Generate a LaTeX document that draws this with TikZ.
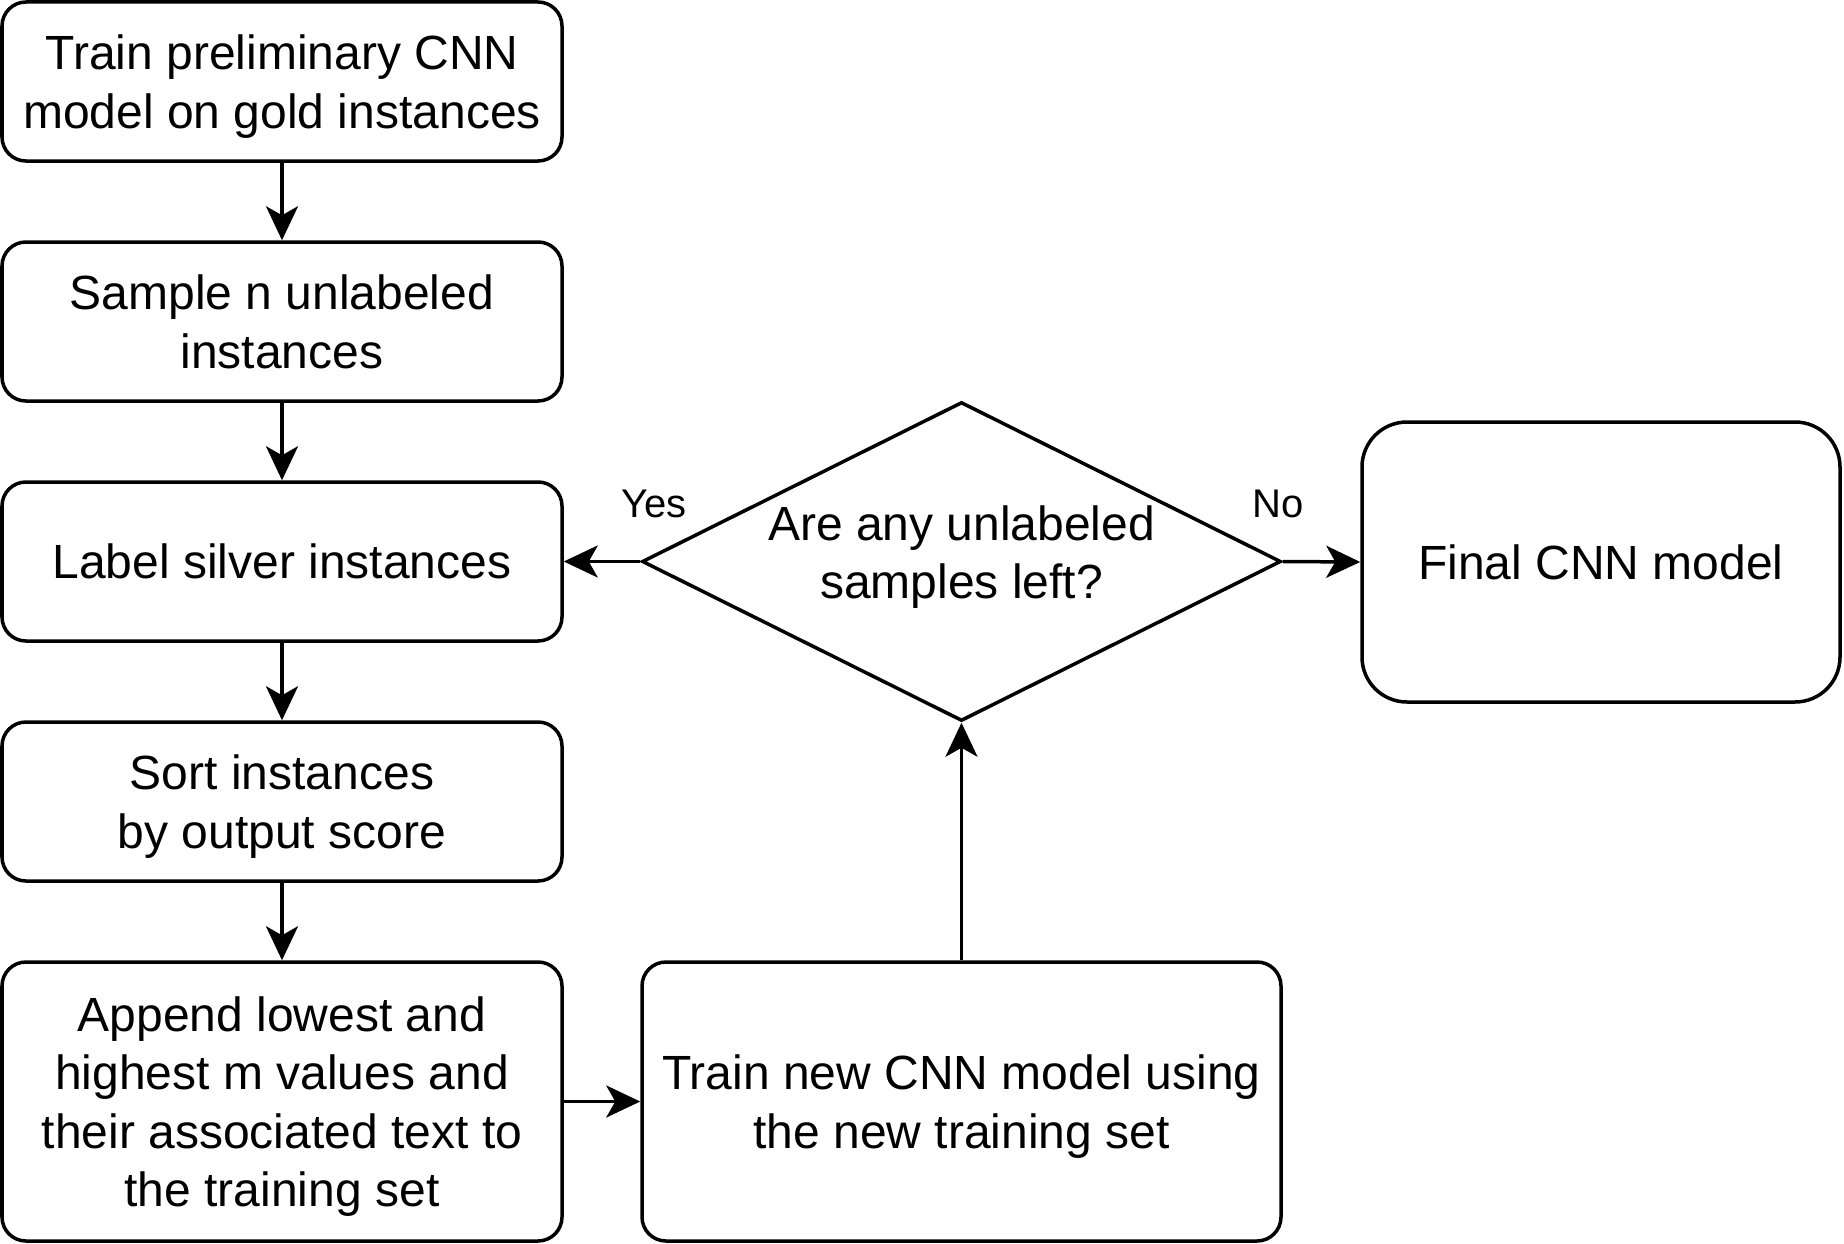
\documentclass[tikz,border=0pt]{standalone}
\usepackage{fontspec}
\setmainfont{Liberation Sans}
\usetikzlibrary{arrows.meta,shapes.geometric}
\newcommand{\mytopstrut}{\rule{0pt}{45pt}}
\newcommand{\mybotstrut}{\rule[-10pt]{0pt}{10pt}}
\tikzset{
  every node/.style={font=\fontsize{48}{58.5}\selectfont},
  box/.style={draw=black, line width=3.5pt, rounded corners=24pt, align=center, inner sep=0pt, fill=white},
  dec/.style={draw=black, line width=3.5pt, diamond, align=center, inner sep=0pt, fill=white},
  conn/.style={line width=3.5pt, -{Stealth[length=34pt,width=32pt,inset=9pt]}},
  lbl/.style={font=\fontsize{40}{48}\selectfont, inner sep=0pt}
}
\begin{document}
\begin{tikzpicture}[x=1pt,y=-1pt]
\useasboundingbox (0,0) rectangle (1844,1244);
\node[box, minimum width=560pt, minimum height=159pt] (b1) at (282,81.5) {\mytopstrut Train preliminary CNN\\model on gold instances};
\node[box, minimum width=560pt, minimum height=159pt] (b2) at (282,321.5) {\mytopstrut Sample n unlabeled\\instances\mybotstrut};
\node[box, minimum width=560pt, minimum height=159pt] (b3) at (282,561.5) {Label silver instances};
\node[box, minimum width=560pt, minimum height=159pt] (b4) at (282,801.5) {\mytopstrut Sort instances\\by output score};
\node[box, minimum width=560pt, minimum height=279pt] (b5) at (282,1101.5) {\mytopstrut Append lowest and\\highest m values and\\their associated text to\\the training set};
\node[box, minimum width=639pt, minimum height=279pt] (b6) at (961.5,1101.5) {\mytopstrut Train new CNN model using\\the new training set};
\node[dec, minimum width=639pt, minimum height=319pt] (d) at (961.5,561.5) {};
\node[align=center, inner sep=0pt] (dt) at (961.5,552) {\mytopstrut Are any unlabeled\\samples left?};
\node[box, rounded corners=45pt, minimum width=478pt, minimum height=280pt] (fin) at (1601,562) {Final CNN model};
\draw[conn] (b1) -- (b2);
\draw[conn] (b2) -- (b3);
\draw[conn] (b3) -- (b4);
\draw[conn] (b4) -- (b5);
\draw[conn] (b5) -- (b6);
\draw[conn] (b6) -- (d.south);
\draw[conn] (d.west) -- (b3.east);
\draw[conn] (d.east) -- (fin.west);
\node[lbl] (yes) at (654,504) {Yes};
\node[lbl] (no) at (1278,504) {No};
\end{tikzpicture}
\end{document}
